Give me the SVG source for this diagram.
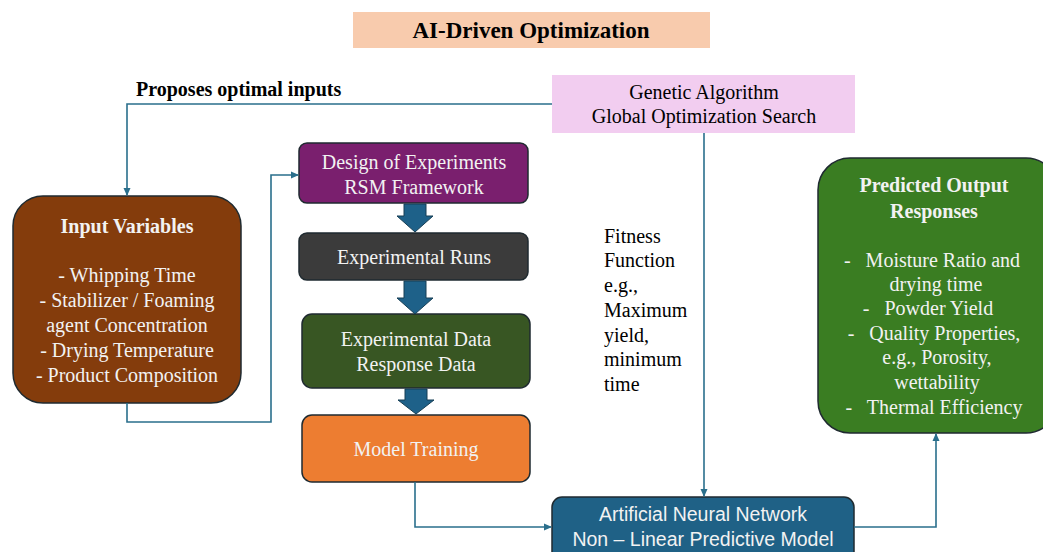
<svg xmlns="http://www.w3.org/2000/svg" width="1043" height="552" viewBox="0 0 1043 552">
<defs>
<style>
.t{font-family:"Liberation Serif","Times New Roman",serif;font-size:20px;text-anchor:middle}
.w{fill:#f2f2f2}
.b{font-weight:bold}
.s{font-family:"Liberation Sans",Arial,sans-serif;font-size:19.5px;text-anchor:middle;fill:#f2f2f2}
.box{stroke:#1f2a30;stroke-width:1.5}
.ln{fill:none;stroke:#2a6f8c;stroke-width:1.6}
.blk{fill:#1e6189;stroke:#173f55;stroke-width:1}
</style>
<marker id="ah" markerWidth="8" markerHeight="8" refX="7" refY="4" orient="auto" markerUnits="userSpaceOnUse">
<path d="M0,0.5 L8,4 L0,7.5 Z" fill="#2a6f8c"/>
</marker>
</defs>
<rect width="1043" height="552" fill="#ffffff"/>

<g id="title">
<rect x="353" y="12" width="357" height="36" fill="#f8cbad"/>
<text class="t b" x="531" y="38" style="font-size:23px">AI-Driven Optimization</text>
</g>

<g id="label-proposes">
<text class="t b" x="136" y="96" style="text-anchor:start">Proposes optimal inputs</text>
</g>

<g id="ga">
<rect x="552" y="75" width="303" height="58" fill="#f2cdf0"/>
<text class="t" x="704" y="99">Genetic Algorithm</text>
<text class="t" x="704" y="123">Global Optimization Search</text>
</g>

<g id="fitness">
<text class="t" style="text-anchor:start" x="604">
<tspan x="604" y="243">Fitness</tspan>
<tspan x="604" y="267">Function</tspan>
<tspan x="604" y="292">e.g.,</tspan>
<tspan x="604" y="317">Maximum</tspan>
<tspan x="604" y="342">yield,</tspan>
<tspan x="604" y="366">minimum</tspan>
<tspan x="604" y="391">time</tspan>
</text>
</g>

<g id="input">
<rect class="box" x="13" y="196" width="228" height="207" rx="30" fill="#843c0c"/>
<text class="t w b" x="127" y="233">Input Variables</text>
<text class="t w" x="127" y="282">- Whipping Time</text>
<text class="t w" x="127" y="307">- Stabilizer / Foaming</text>
<text class="t w" x="127" y="332">agent Concentration</text>
<text class="t w" x="127" y="357">- Drying Temperature</text>
<text class="t w" x="127" y="382">- Product Composition</text>
</g>

<g id="doe">
<rect class="box" x="299" y="143" width="229" height="60" rx="8" fill="#7a1f6e"/>
<text class="t w" x="414" y="169">Design of Experiments</text>
<text class="t w" x="414" y="194">RSM Framework</text>
</g>

<g id="runs">
<rect class="box" x="299" y="233" width="229" height="47" rx="8" fill="#3b3b3b"/>
<text class="t w" x="414" y="264">Experimental Runs</text>
</g>

<g id="data">
<rect class="box" x="302" y="314" width="228" height="74" rx="10" fill="#385623"/>
<text class="t w" x="416" y="346">Experimental Data</text>
<text class="t w" x="416" y="371">Response Data</text>
</g>

<g id="training">
<rect class="box" x="302" y="415" width="228" height="67" rx="10" fill="#ed7d31"/>
<text class="t w" x="416" y="456">Model Training</text>
</g>

<g id="ann">
<rect class="box" x="552" y="497" width="302" height="70" rx="10" fill="#1f6186"/>
<text class="s" x="703" y="521">Artificial Neural Network</text>
<text class="s" x="703" y="546">Non – Linear Predictive Model</text>
</g>

<g id="output">
<rect class="box" x="818" y="158" width="240" height="275" rx="32" fill="#3a7d22"/>
<text class="t w b" x="934" y="192">Predicted Output</text>
<text class="t w b" x="934" y="218">Responses</text>
<text class="t w" x="932" y="267" xml:space="preserve">-   Moisture Ratio and</text>
<text class="t w" x="936" y="291">drying time</text>
<text class="t w" x="928" y="315" xml:space="preserve">-   Powder Yield</text>
<text class="t w" x="934" y="340" xml:space="preserve">-   Quality Properties,</text>
<text class="t w" x="937" y="364">e.g., Porosity,</text>
<text class="t w" x="937" y="389">wettability</text>
<text class="t w" x="934" y="414" xml:space="preserve">-   Thermal Efficiency</text>
</g>

<g id="connectors">
<path class="ln" d="M552,104 H127 V195" marker-end="url(#ah)"/>
<path class="ln" d="M127,403 V422 H271 V175 H298" marker-end="url(#ah)"/>
<path class="ln" d="M704,133 V496" marker-end="url(#ah)"/>
<path class="ln" d="M415,482 V527 H551" marker-end="url(#ah)"/>
<path class="ln" d="M854,527 H936 V434" marker-end="url(#ah)"/>
<path class="blk" d="M404,204 H426 V216 H433 L415,232 L397,216 H404 Z"/>
<path class="blk" d="M404,281 H426 V298 H433 L415,314 L397,298 H404 Z"/>
<path class="blk" d="M405,389 H427 V400 H434 L416,414 L398,400 H405 Z"/>
</g>
</svg>
